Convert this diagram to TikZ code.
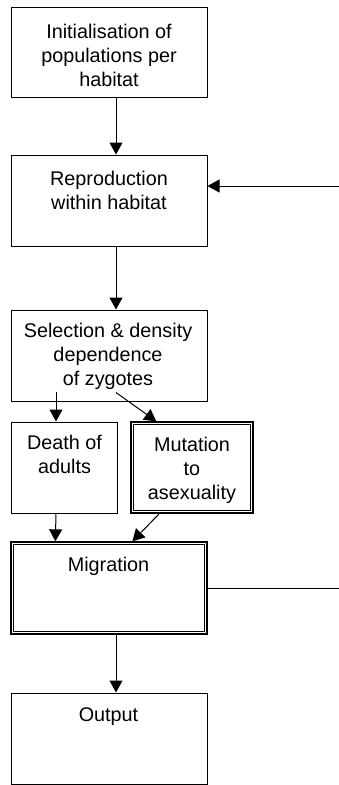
\documentclass[tikz,border=0pt]{standalone}
\usepackage{fontspec}
\setmainfont{Liberation Sans}
\usetikzlibrary{arrows.meta,calc}
\begin{document}
\begin{tikzpicture}[x=1pt,y=-1pt,
  box/.style={draw, line width=1pt, inner sep=0pt, minimum width=196pt, minimum height=91pt},
  inner/.style={line width=1pt},
  txt/.style={anchor=north, align=center, inner sep=0pt, font=\fontsize{19.8}{24}\selectfont},
  arr/.style={line width=1pt, -{Triangle[length=12pt,width=13pt]}},
  ln/.style={line width=1pt}]
\useasboundingbox (0,0) rectangle (339,785);
% boxes
\node[box, minimum height=90pt] (b1) at (109,52) {};
\node[box] (b2) at (109,200.5) {};
\node[box] (b3) at (109,355.5) {};
\node[box, minimum width=106pt] (d) at (64,467.5) {};
\node[box, minimum width=122pt, line width=1.3pt] (m) at (192,467.5) {};
\draw[inner] ($(m.north west)+(3,3)$) rectangle ($(m.south east)+(-3,-3)$);
\node[box, minimum height=92pt, line width=1.3pt] (mig) at (109,588) {};
\draw[inner] ($(mig.north west)+(3,3)$) rectangle ($(mig.south east)+(-3,-3)$);
\node[box, minimum height=91.5pt] (out) at (109,738.75) {};
% texts
\node[txt] (t1) at (109,24) {Initialisation of\\populations per\\habitat};
\node[txt] (t2) at (109,171) {Reproduction\\within habitat};
\node[txt] (t3) at (108,323) {Selection \& density\\dependence\\of zygotes};
\node[txt] (td) at (64.5,435) {Death of\\adults};
\node[txt] (tm) at (192,437) {Mutation\\to\\asexuality};
\node[txt] (tmig) at (108.5,557) {Migration};
\node[txt] (tout) at (108.5,707) {Output};
% connectors
\coordinate (fb1) at (339,186);
\coordinate (fb2) at (339,588);
\draw[arr] ([xshift=7pt]b1.south) -- ([xshift=7pt]b2.north);
\draw[arr] (fb1) -- (fb1 -| b2.east);
\draw[arr] ([xshift=7pt]b2.south) -- ([xshift=7pt]b3.north);
\draw[arr] ($(d.north)+(-8,-30)$) -- ($(d.north)+(-8,0)$);
\draw[arr] ($(b3.south)+(7,-9)$) -- ($(m.north west)+(26,0)$);
\draw[arr] ($(d.south)+(-8,0)$) -- ($(mig.north west)+(45,0)$);
\draw[arr] ($(m.south west)+(29,0)$) -- ($(mig.north west)+(122,0)$);
\draw[arr] ([xshift=7pt]mig.south) -- ([xshift=7pt]out.north);
\draw[ln] (mig.east) -- (fb2);
\end{tikzpicture}
\end{document}
